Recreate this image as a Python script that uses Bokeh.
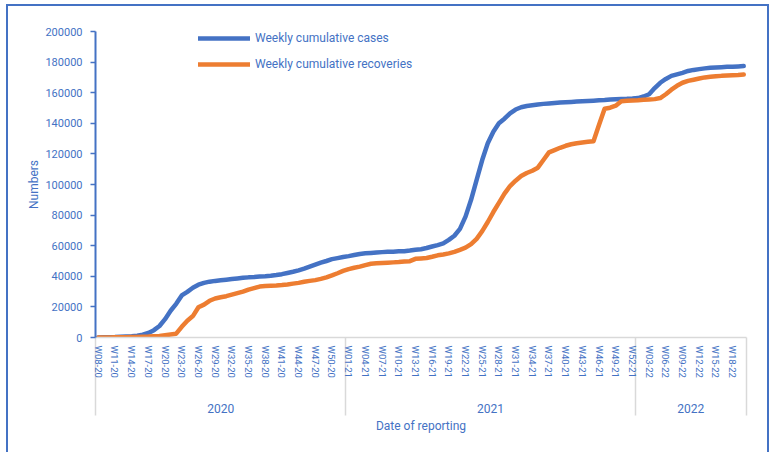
import numpy as np
from bokeh.plotting import figure
from bokeh.layouts import column
from bokeh.models import (Range1d, FixedTicker, LinearAxis, Legend, LegendItem,
                          BasicTickFormatter, ColumnDataSource)
from bokeh.embed import file_html
from bokeh.resources import INLINE

# ---------------- data ----------------
years = ["2020", "2021", "2022"]
first_week = [8, 1, 1]
last_week = [52, 52, 20]

cases = [
    # 2020 W08-W52
    0, 100, 200, 300, 500, 700, 900, 1200, 1800, 3000,
    4800, 7500, 12000, 17500, 22000, 27500, 29800, 32500, 34500, 35700,
    36500, 37000, 37400, 37800, 38200, 38600, 39000, 39300, 39500, 39800,
    40000, 40300, 40800, 41400, 42200, 43000, 43900, 45000, 46300, 47600,
    48900, 50000, 51200, 51900, 52600,
    # 2021 W01-W52
    53200, 53900, 54600, 55000, 55300, 55600, 55800, 56000, 56100, 56300,
    56400, 56800, 57300, 57700, 58500, 59500, 60400, 61500, 63800, 66500,
    71000, 79000, 90000, 103000, 116000, 127000, 134500, 140000, 143000, 146500,
    149000, 150500, 151300, 151800, 152300, 152700, 153000, 153300, 153600, 153800,
    154000, 154200, 154400, 154600, 154800, 155000, 155200, 155500, 155700, 155900,
    156000, 156200,
    # 2022 W01-W20
    156500, 157500, 159000, 163000, 166500, 169000, 171000, 172000, 173000, 174200,
    174900, 175400, 175900, 176300, 176500, 176700, 176900, 177000, 177200, 177400,
]

recoveries = [
    # 2020 W08-W52
    0, 0, 0, 100, 100, 200, 300, 400, 500, 600,
    800, 1000, 1500, 2000, 2500, 7000, 11000, 14000, 19800, 21500,
    24000, 25500, 26300, 27000, 28000, 29000, 30000, 31300, 32300, 33300,
    33600, 33800, 34000, 34300, 34700, 35200, 35700, 36400, 37000, 37500,
    38300, 39300, 40600, 42000, 43500,
    # 2021 W01-W52
    44700, 45600, 46300, 47300, 48200, 48500, 48700, 48900, 49100, 49300,
    49600, 49900, 51400, 51700, 52000, 52800, 53700, 54300, 55000, 56000,
    57300, 58700, 61000, 64500, 69500, 75500, 82000, 88000, 94000, 99000,
    102500, 105500, 107500, 109000, 111000, 116000, 121000, 122500, 124000, 125300,
    126300, 127000, 127500, 127900, 128300, 139000, 149500, 150200, 151500, 154400,
    154700, 154900,
    # 2022 W01-W20
    155100, 155400, 155600, 155800, 156500, 159000, 162000, 164500, 166500, 167700,
    168500, 169300, 170000, 170400, 170700, 171000, 171200, 171400, 171600, 171900,
]

y_ticks = [0, 20000, 40000, 60000, 80000, 100000, 120000, 140000, 160000, 180000, 200000]

series_names = ["Weekly cumulative cases", "Weekly cumulative recoveries"]
y_title = "Numbers"
x_title = "Date of reporting"

# ---------------- categories ----------------
week_labels = []
group_start = []
group_count = []
for yr, fw, lw in zip(years, first_week, last_week):
    group_start.append(len(week_labels))
    group_count.append(lw - fw + 1)
    for w in range(fw, lw + 1):
        week_labels.append(f"W{w:02d}-{yr[2:]}")

n = len(week_labels)
x = np.arange(n)
src = ColumnDataSource(dict(x=x, cases=cases, rec=recoveries))

BLUE = "#4472C4"
ORANGE = "#ED7D31"
FONT = "Roboto"

p = figure(width=759, height=446, output_backend="svg", toolbar_location=None,
           x_range=Range1d(-0.5, n - 0.5), y_range=Range1d(0, 200000),
           min_border_left=87, min_border_right=21, min_border_top=25,
           min_border_bottom=115, background_fill_color="white",
           border_fill_color="white")
p.grid.visible = False
p.outline_line_color = None

r_cases = p.line("x", "cases", source=src, line_color=BLUE, line_width=4.5,
                 line_cap="round", line_join="round")
r_rec = p.line("x", "rec", source=src, line_color=ORANGE, line_width=4.5,
               line_cap="round", line_join="round")

# y axis
ya = p.yaxis[0]
ya.ticker = FixedTicker(ticks=y_ticks)
ya.formatter = BasicTickFormatter(use_scientific=False)
ya.axis_line_color = BLUE
ya.axis_line_width = 2
ya.major_tick_line_color = BLUE
ya.major_tick_line_width = 1.5
ya.major_tick_out = 5
ya.major_tick_in = 0
ya.minor_tick_line_color = None
ya.major_label_standoff = 8
ya.major_label_text_font = FONT
ya.major_label_text_font_size = "11px"
ya.major_label_text_color = BLUE
ya.axis_label = y_title
ya.axis_label_text_font = FONT
ya.axis_label_text_font_size = "12px"
ya.axis_label_text_font_style = "normal"
ya.axis_label_text_color = BLUE
ya.axis_label_standoff = 1

# x axis: week labels every 3rd category, group separators as minor ticks
label_ticks = list(range(0, n, 3))
boundaries = [s - 0.5 for s in group_start] + [n - 0.5]
xa = p.xaxis[0]
xa.ticker = FixedTicker(ticks=label_ticks, minor_ticks=boundaries)
xa.major_label_overrides = {i: week_labels[i] for i in label_ticks}
xa.major_label_orientation = "vertical"
xa.major_label_standoff = 8
xa.major_label_text_font = FONT
xa.major_label_text_font_size = "9.5px"
xa.major_label_text_color = BLUE
xa.major_tick_line_color = None
xa.major_tick_out = 0
xa.major_tick_in = 0
xa.minor_tick_line_color = "#D9D9D9"
xa.minor_tick_line_width = 1.5
xa.minor_tick_out = 0
xa.minor_tick_in = -78
xa.axis_line_color = "#D9D9D9"
xa.axis_line_width = 1.5

# group (year) labels
centers = [s + (c - 1) / 2 for s, c in zip(group_start, group_count)]
ga = LinearAxis(ticker=FixedTicker(ticks=centers),
                major_label_overrides={c: yr for c, yr in zip(centers, years)})
ga.axis_line_color = None
ga.major_tick_line_color = None
ga.minor_tick_line_color = None
ga.major_tick_out = 0
ga.major_tick_in = 0
ga.major_label_standoff = 23
ga.major_label_text_font = FONT
ga.major_label_text_font_size = "12px"
ga.major_label_text_color = BLUE
ga.axis_label = x_title
ga.axis_label_text_font = FONT
ga.axis_label_text_font_size = "12px"
ga.axis_label_text_font_style = "normal"
ga.axis_label_text_color = BLUE
ga.axis_label_standoff = 3
p.add_layout(ga, "below")

legend = Legend(items=[LegendItem(label=series_names[0], renderers=[r_cases]),
                       LegendItem(label=series_names[1], renderers=[r_rec])],
                location=(103, 266), orientation="vertical",
                glyph_width=52, glyph_height=14, label_height=14,
                label_standoff=5, spacing=12, padding=0, margin=0,
                border_line_color=None, background_fill_alpha=0,
                label_text_font=FONT, label_text_font_size="12px",
                label_text_color=BLUE)
p.add_layout(legend)

page = column(p, styles={"border-top": "2px solid #4472C4",
                         "border-left": "2px solid #4472C4",
                         "border-right": "2px solid #4472C4",
                         "margin-left": "6px", "margin-top": "4px"})

open("out.html", "w").write(file_html(page, INLINE))
